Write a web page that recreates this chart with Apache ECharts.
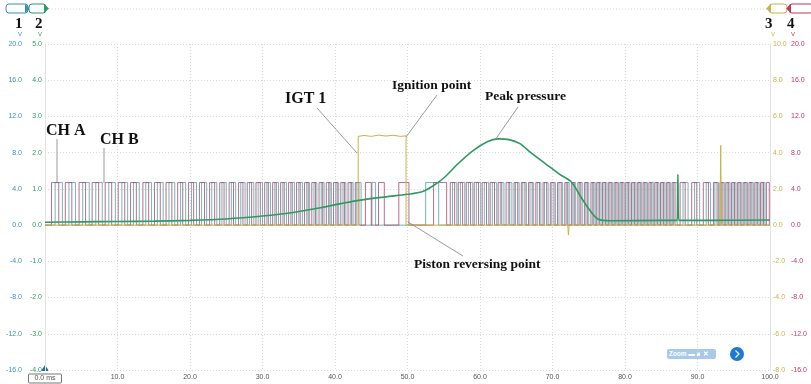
<!DOCTYPE html>
<html>
<head>
<meta charset="utf-8">
<script src="https://cdn.jsdelivr.net/npm/echarts@6/dist/echarts.min.js"></script>
<style>
  html, body { margin: 0; padding: 0; background: #ffffff; }
  #chart { width: 811px; height: 384px; }
</style>
</head>
<body>
<div id="chart"></div>
<script>
// Time axis (ms) tick values
const timeTicks = [0, 10, 20, 30, 40, 50, 60, 70, 80, 90, 100];

// Encoder channel levels [low, high] in volts
const encoderLevels = [0, 4.7];

// CH A encoder pulses: [rising edge ms, falling edge ms]
const chA = [
  [0.9,1.9],[2.8,3.7],[4.7,5.6],[6.5,7.4],[8.3,9.2],[10.1,11.0],[11.8,12.6],[13.5,14.3],
  [15.1,15.9],[16.7,17.5],[18.3,19.0],[19.8,20.5],[21.3,22.0],[22.7,23.4],[24.1,24.7],
  [25.4,26.0],[26.7,27.3],[27.9,28.5],[29.1,29.7],[30.3,30.8],[31.4,31.9],[32.5,33.0],
  [33.6,34.1],[34.7,35.2],[35.8,36.3],[36.8,37.3],[37.8,38.3],[38.8,39.3],[39.8,40.3],
  [40.8,41.3],[41.8,42.3],[42.8,43.3],
  [44.2,45.0],[46.0,46.8],[48.8,50.2],[53.6,55.4],
  [55.9,56.5],[57.0,57.6],[58.1,58.7],[59.2,59.8],[60.3,60.9],[61.4,62.0],[62.5,63.0],
  [63.6,64.1],[64.7,65.2],[65.7,66.2],[66.7,67.2],[67.7,68.2],[68.7,69.2],[69.7,70.2],
  [70.7,71.2],[71.7,72.1],[72.6,73.0],[73.5,73.9],[74.4,74.8],
  [75.3,75.7],[76.1,76.5],[76.9,77.3],[77.7,78.1],[78.5,78.9],[79.3,79.7],[80.1,80.5],
  [80.9,81.3],[81.7,82.1],[82.5,82.9],[83.3,83.7],[84.1,84.5],[84.9,85.3],[85.7,86.1],
  [86.5,86.9],[87.6,88.3],[89.2,89.9],[90.8,91.5],[92.2,92.7],[93.1,93.5],[93.9,94.3],
  [94.7,95.1],[95.5,95.9],[96.3,96.7],[97.1,97.5],[97.9,98.3],[98.7,99.1],[99.5,99.9]
];

// CH B encoder pulses: [rising edge ms, falling edge ms]
const chB = [
  [1.4,2.4],[3.3,4.2],[5.2,6.1],[7.0,7.9],[8.8,9.7],[10.6,11.4],[12.2,13.0],[13.9,14.7],
  [15.5,16.3],[17.1,17.9],[18.7,19.4],[20.2,20.9],[21.6,22.3],[23.0,23.7],[24.4,25.0],
  [25.7,26.3],[27.0,27.6],[28.2,28.8],[29.4,30.0],[30.6,31.1],[31.7,32.2],[32.8,33.3],
  [33.9,34.4],[35.0,35.5],[36.1,36.5],[37.1,37.5],[38.1,38.5],[39.1,39.5],[40.1,40.5],
  [41.1,41.5],[42.1,42.5],[43.0,43.6],
  [45.1,45.6],[52.5,54.3],
  [56.2,56.8],[57.3,57.9],[58.4,59.0],[59.5,60.1],[60.6,61.2],[61.7,62.3],[62.8,63.3],
  [63.9,64.4],[64.9,65.4],[65.9,66.4],[66.9,67.4],[67.9,68.4],[68.9,69.4],[69.9,70.4],
  [70.9,71.4],[71.9,72.3],[72.8,73.2],[73.7,74.1],[74.6,75.0],
  [75.5,75.9],[76.3,76.7],[77.1,77.5],[77.9,78.3],[78.7,79.1],[79.5,79.9],[80.3,80.7],
  [81.1,81.5],[81.9,82.3],[82.7,83.1],[83.5,83.9],[84.3,84.7],[85.1,85.5],[85.9,86.3],
  [86.7,87.2],[88.0,88.7],[89.6,90.3],[91.2,91.8],[92.4,92.9],[93.3,93.7],[94.1,94.5],
  [94.9,95.3],[95.7,96.1],[96.5,96.9],[97.3,97.7],[98.1,98.5],[98.9,99.3]
];

// Cylinder pressure sensor output: [ms, V]
const pressure = [
  [0,0.08],[5,0.09],[10,0.10],[15,0.11],[20,0.13],[25,0.17],[30,0.25],[34,0.34],
  [38,0.48],[41,0.60],[43.5,0.69],[47,0.78],[50,0.85],[52,0.92],[53.5,1.08],[55,1.30],
  [57,1.70],[59,2.05],[61,2.30],[62.5,2.38],[64,2.36],[65.5,2.25],[67,2.00],[69,1.70],
  [71,1.40],[72.6,1.19],[74,0.75],[75,0.45],[76.3,0.16],[78,0.12],[85,0.13],
  [87.2,0.13],[87.3,1.40],[87.4,0.13],[92,0.13],[100,0.14]
];

// Ignition trigger (IGT 1): [ms, V]
const igt = [
  [0,0],[43.2,0],[43.2,4.90],[44,4.95],[45,4.90],[46,4.97],[47,4.92],[48,4.96],[49,4.90],
  [49.8,4.93],[49.8,0],[72.1,0],[72.2,-0.55],[72.3,0],[93.1,0],[93.2,4.40],[93.3,0],[100,0]
];

// Channel scale ranges [min, max, step]
const ch1Scale = [-16, 20, 4];
const ch2Scale = [-4, 5, 1];
const ch3Scale = [-8, 10, 2];
const ch4Scale = [-16, 20, 4];

const COL1 = '#3b8fb8', COL2 = '#2f9a66', COL3 = '#c9b24a', COL4 = '#c2375a';

function pulseTrain(pulses, levels) {
  const pts = [[0, levels[0]]];
  pulses.forEach(([r, f]) => {
    pts.push([r, levels[0]], [r, levels[1]], [f, levels[1]], [f, levels[0]]);
  });
  pts.push([100, levels[0]]);
  return pts;
}

const chart = echarts.init(document.getElementById('chart'), null, { renderer: 'canvas' });

const fmt = v => v.toFixed(1);
const smallLabel = (color) => ({ color: color, fontSize: 7, fontFamily: 'Liberation Sans', formatter: fmt });

function yAxis(scale, pos, offset, color, showSplit) {
  return {
    type: 'value', position: pos, offset: offset,
    min: scale[0], max: scale[1], interval: scale[2],
    axisLine: { show: offset === 0, lineStyle: { color: '#e2e2e2' } },
    axisTick: { show: false },
    axisLabel: Object.assign(smallLabel(color), { margin: 3 }),
    splitLine: { show: showSplit, lineStyle: { color: '#d9d9d9', type: [1, 2], width: 1 } }
  };
}

const annFont = 'bold {s}px "Liberation Serif", "DejaVu Serif", serif';
function ann(text, x, y, size) {
  return { type: 'text', left: x, top: y, z: 100,
    style: { text: text, font: annFont.replace('{s}', size), fill: '#111' } };
}
function lead(x1, y1, x2, y2) {
  return { type: 'line', z: 100, shape: { x1, y1, x2, y2 },
    style: { stroke: '#808080', lineWidth: 0.8 } };
}

const option = {
  animation: false,
  backgroundColor: '#ffffff',
  grid: { left: 45, right: 41, top: 44, bottom: 14, containLabel: false },
  xAxis: {
    type: 'value', min: timeTicks[0], max: timeTicks[timeTicks.length - 1], interval: 10,
    axisLine: { show: false }, axisTick: { show: false },
    axisLabel: {
      color: '#555', fontSize: 7, fontFamily: 'Liberation Sans', margin: 4,
      formatter: v => v === 0 ? '{b|0.0 ms}' : v.toFixed(1),
      rich: { b: { fontSize: 7, color: '#555', borderColor: '#555', borderWidth: 0.8,
                   borderRadius: 1, padding: [1, 6, 1, 6] } }
    },
    splitLine: { show: true, lineStyle: { color: '#d9d9d9', type: [1, 2], width: 1 } }
  },
  yAxis: [
    yAxis(ch1Scale, 'left', 20, COL1, true),
    yAxis(ch2Scale, 'left', 0, COL2, false),
    yAxis(ch3Scale, 'right', 0, COL3, false),
    yAxis(ch4Scale, 'right', 18, COL4, false)
  ],
  series: [
    { name: 'CH B', type: 'line', yAxisIndex: 0, data: pulseTrain(chB, encoderLevels),
      showSymbol: false, lineStyle: { color: '#5aa9aa', width: 1, opacity: 0.85 }, z: 2 },
    { name: 'CH A', type: 'line', yAxisIndex: 3, data: pulseTrain(chA, encoderLevels),
      showSymbol: false, lineStyle: { color: '#a84a70', width: 1, opacity: 0.8 }, z: 3 },
    { name: 'IGT 1', type: 'line', yAxisIndex: 2, data: igt,
      showSymbol: false, lineStyle: { color: COL3, width: 1 }, z: 4 },
    { name: 'Pressure', type: 'line', yAxisIndex: 1, data: pressure, smooth: 0.3,
      showSymbol: false, lineStyle: { color: '#2e9a62', width: 1.6 }, z: 5 }
  ],
  graphic: [
    // header frame line
    { type: 'line', shape: { x1: 46, y1: 9, x2: 768, y2: 9 }, style: { stroke: '#d6d6d6', lineWidth: 1, lineDash: [1, 2] } },
    // channel buttons (left)
    { type: 'rect', shape: { x: 6, y: 4, width: 22, height: 9, r: 3 }, style: { fill: '#fff', stroke: COL1, lineWidth: 1 } },
    { type: 'polygon', shape: { points: [[25, 4], [30, 8.5], [25, 13]] }, style: { fill: COL1 } },
    { type: 'rect', shape: { x: 29, y: 4, width: 17, height: 9, r: 3 }, style: { fill: '#fff', stroke: COL2, lineWidth: 1 } },
    { type: 'polygon', shape: { points: [[44, 4], [49, 8.5], [44, 13]] }, style: { fill: COL2 } },
    // channel buttons (right)
    { type: 'rect', shape: { x: 769, y: 4, width: 18, height: 9, r: 3 }, style: { fill: '#fff', stroke: COL3, lineWidth: 1 } },
    { type: 'polygon', shape: { points: [[771, 4], [766, 8.5], [771, 13]] }, style: { fill: COL3 } },
    { type: 'rect', shape: { x: 789, y: 4, width: 24, height: 9, r: 3 }, style: { fill: '#fff', stroke: COL4, lineWidth: 1 } },
    { type: 'polygon', shape: { points: [[791, 4], [786, 8.5], [791, 13]] }, style: { fill: COL4 } },
    // channel numbers and units
    ann('1', 15, 17, 15), ann('2', 35, 17, 15), ann('3', 765, 17, 15), ann('4', 787, 17, 15),
    { type: 'text', left: 18, top: 31, style: { text: 'V', font: '6px "Liberation Sans"', fill: COL1 } },
    { type: 'text', left: 38, top: 31, style: { text: 'V', font: '6px "Liberation Sans"', fill: COL2 } },
    { type: 'text', left: 771, top: 31, style: { text: 'V', font: '6px "Liberation Sans"', fill: COL3 } },
    { type: 'text', left: 791, top: 31, style: { text: 'V', font: '6px "Liberation Sans"', fill: COL4 } },
    // trigger marker at origin
    { type: 'polygon', shape: { points: [[41, 371], [45, 365], [49, 371]] }, style: { fill: '#2a6f98' } },
    // zoom widget
    { type: 'rect', shape: { x: 667, y: 349, width: 49, height: 10, r: 2 }, style: { fill: '#a9c9ea' } },
    { type: 'text', left: 669, top: 350.5, style: { text: 'Zoom ▬ ■ ✕', font: 'bold 6.5px "Liberation Sans"', fill: '#ffffff' } },
    { type: 'circle', shape: { cx: 737, cy: 354, r: 7 }, style: { fill: '#1c7bd0' } },
    { type: 'polyline', shape: { points: [[735.5, 350.5], [739, 354], [735.5, 357.5]] }, style: { stroke: '#fff', lineWidth: 1.2, fill: null } },
    // annotations
    ann('CH A', 46, 123, 16), lead(57, 139, 57, 183),
    ann('CH B', 100, 132, 16), lead(104, 148, 104, 183),
    ann('IGT 1', 285, 91, 16), lead(317, 108, 357, 153),
    ann('Ignition point', 392, 79, 13.5), lead(437, 95, 406, 137),
    ann('Peak pressure', 485, 90, 13.5), lead(518, 107, 495, 140),
    ann('Piston reversing point', 414, 258, 13.5), lead(408, 222, 463, 256)
  ]
};

chart.setOption(option);
</script>
</body>
</html>
